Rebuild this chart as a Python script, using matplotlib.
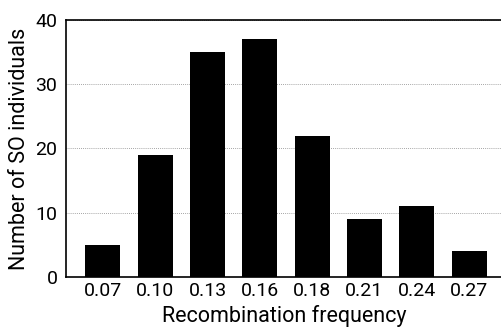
import matplotlib
matplotlib.use("Agg")
import matplotlib.pyplot as plt

categories = ["0.07", "0.10", "0.13", "0.16", "0.18", "0.21", "0.24", "0.27"]
counts = [5, 19, 35, 37, 22, 9, 11, 4]
yticks = [0, 10, 20, 30, 40]

plt.rcParams['font.family'] = ['Roboto', 'DejaVu Sans']

fig = plt.figure(figsize=(5.02, 3.32), dpi=100)
ax = fig.add_axes([0.131, 0.166, 0.869, 0.774])

x = list(range(len(categories)))
ax.bar(x, counts, width=0.67, color='black', zorder=3)

ax.set_xlim(-0.71, 7.63)
ax.set_ylim(0, 40)
ax.set_yticks(yticks)
ax.set_xticks(x)
ax.set_xticklabels(categories)
ax.tick_params(axis='both', length=0, labelsize=14, pad=4)
ax.tick_params(axis='y', pad=6)
ax.yaxis.grid(True, linestyle=(0, (1, 1.5)), color='#888888', linewidth=0.6, zorder=0)

for s in ['left', 'bottom', 'top']:
    ax.spines[s].set_linewidth(1.2)
    ax.spines[s].set_color('black')
ax.spines['right'].set_visible(False)

ax.set_ylabel("Number of SO individuals", fontsize=15.5, labelpad=4)
ax.set_xlabel("Recombination frequency", fontsize=15.5, labelpad=3)

fig.savefig("out.png", dpi=100)
